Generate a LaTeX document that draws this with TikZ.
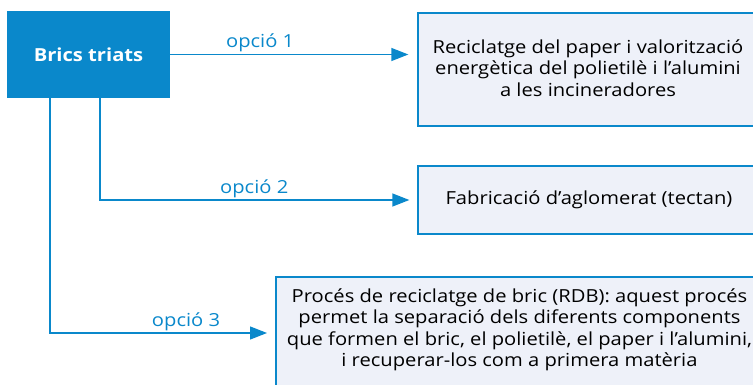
\documentclass[tikz,border=0pt]{standalone}
\usepackage{fontspec}
\setmainfont[FakeStretch=1.12]{Open Sans}
\usetikzlibrary{arrows.meta}
\definecolor{cblue}{HTML}{0A88CB}
\definecolor{cfill}{HTML}{EEF1F9}
\tikzset{
  x=1pt, y=-1pt,
  conn/.style={draw=cblue, line width=1.3pt},
  arr/.style={conn, -{Triangle[length=17pt,width=13pt]}},
  box/.style={draw=cblue, fill=cfill, line width=1.3pt, inner sep=0pt},
  txt/.style={font=\fontsize{18}{21.5}\selectfont, align=center, inner sep=0pt},
  lbl/.style={font=\fontsize{18}{21}\selectfont, text=cblue, inner sep=0pt, anchor=base, yshift=6.5pt},
}
\begin{document}
\begin{tikzpicture}
\useasboundingbox (0,0) rectangle (753,385);
\clip (0,0) rectangle (753,385);
\node[fill=cblue, minimum width=163pt, minimum height=87pt, inner sep=0pt] (brics) at (88.5,54.5) {};
\node[font=\bfseries\fontsize{18}{21}\selectfont, text=white, inner sep=0pt] (bricst) at (88.5,55) {Brics triats};
\node[box, minimum width=342pt, minimum height=113pt] (b1) at (589,69.5) {};
\node[box, minimum width=342pt, minimum height=68pt] (b2) at (589,200) {};
\node[box, minimum width=490pt, minimum height=120pt] (b3) at (521,337) {};
\node[txt] (t1) at (588,68) {Reciclatge del paper i valorització\\energètica del polietilè i l’alumini\\a les incineradores};
\node[txt] (t2) at (589,200) {Fabricació d’aglomerat (tectan)};
\node[txt] (t3) at (519.5,330) {Procés de reciclatge de bric (RDB): aquest procés\\permet la separació dels diferents components\\que formen el bric, el polietilè, el paper i l’alumini,\\i recuperar-los com a primera matèria};
\coordinate (v1) at (50,98);
\coordinate (v2) at (100,98);
\coordinate (a3) at (276,333);
\draw[arr, shorten >=9pt] (brics.east) -- (brics.east -| b1.west) node[lbl, pos=0.364] (l1) {opció 1};
\draw[arr, shorten >=8pt] (v2) |- (b2.west) node[lbl, pos=0.743] (l2) {opció 2};
\draw[arr, shorten >=9pt] (v1) |- (a3) node[lbl, pos=0.801] (l3) {opció 3};
\end{tikzpicture}
\end{document}
